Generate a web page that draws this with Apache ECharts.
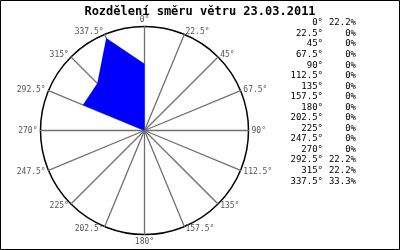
<!DOCTYPE html>
<html>
<head>
<meta charset="utf-8">
<script src="https://cdn.jsdelivr.net/npm/echarts@6/dist/echarts.min.js"></script>
<style>html,body{margin:0;padding:0;background:#fff}#c{width:400px;height:250px}</style>
</head>
<body>
<div id="c"></div>
<script>
var titleText = 'Rozdělení směru větru 23.03.2011';
var directions = ['0°','22.5°','45°','67.5°','90°','112.5°','135°','157.5°','180°','202.5°','225°','247.5°','270°','292.5°','315°','337.5°'];
var percents = [22.2,0,0,0,0,0,0,0,0,0,0,0,0,22.2,22.2,33.3];
var radialMax = 34.6;

// radar goes counter-clockwise; reorder so directions run clockwise from top
var order = [0];
for (var i = directions.length - 1; i >= 1; i--) order.push(i);

var chart = echarts.init(document.getElementById('c'), null, {renderer:'canvas'});

var graphics = [{
  type:'rect', shape:{x:0.5,y:0.5,width:399,height:249},
  style:{fill:'none',stroke:'#000',lineWidth:1}, silent:true, z:100
}];
directions.forEach(function(d, i){
  var y = 23 + i * 10.55;
  graphics.push({type:'text', x:323, y:y, style:{text:d, fill:'#000', font:'9px "DejaVu Sans Mono"', textAlign:'right', textVerticalAlign:'middle'}});
  graphics.push({type:'text', x:356, y:y, style:{text:percents[i] + '%', fill:'#000', font:'9px "DejaVu Sans Mono"', textAlign:'right', textVerticalAlign:'middle'}});
});

chart.setOption({
  animation:false,
  backgroundColor:'#fff',
  title:{text:titleText, left:'center', top:1, textStyle:{fontFamily:'DejaVu Sans Mono', fontWeight:'bold', fontSize:12, color:'#000'}},
  radar:{
    center:[144.5,130.5], radius:104, startAngle:90, shape:'circle', splitNumber:1,
    indicator: order.map(function(i){ return {name:directions[i], min:0, max:radialMax}; }),
    axisName:{color:'#555', fontFamily:'DejaVu Sans Mono', fontSize:8},
    nameGap:3,
    axisLine:{lineStyle:{color:'#707070', width:1.3}},
    splitLine:{lineStyle:{color:'#000', width:1.5}},
    splitArea:{show:false},
    axisTick:{show:false}, axisLabel:{show:false}
  },
  series:[{
    type:'radar', symbol:'none', silent:true,
    lineStyle:{width:0},
    areaStyle:{color:'#0000ff', opacity:1},
    data:[{value: order.map(function(i){ return percents[i]; })}]
  }],
  graphic: graphics
});
</script>
</body>
</html>
